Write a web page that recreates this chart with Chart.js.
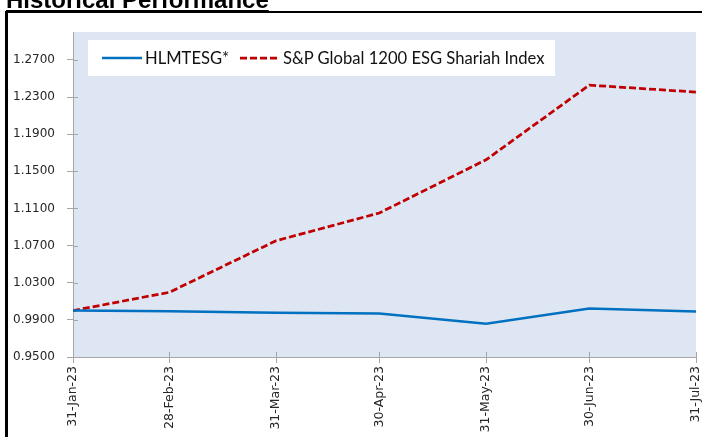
<!DOCTYPE html>
<html>
<head>
<meta charset="utf-8">
<script src="https://cdn.jsdelivr.net/npm/chart.js@4.4.1/dist/chart.umd.min.js"></script>
<style>
  html, body { margin: 0; padding: 0; background: #fff; }
  #wrap { position: relative; width: 702px; height: 437px; overflow: hidden; }
  #chart { position: absolute; left: 0; top: 0; }
  #title {
    position: absolute; left: 6px; top: -14px; line-height: 24px;
    font: bold 24px "Liberation Sans", Arial, sans-serif; color: #000;
    text-decoration: underline; white-space: nowrap;
  }
  #frame {
    position: absolute; left: 5px; top: 11px; width: 740px; height: 460px;
    border-left: 3px solid #000; border-top: 2px solid #000;
  }
  #legend {
    position: absolute; left: 88px; top: 40px; width: 467px; height: 36px;
    background: #fff; font: 16.6px Lato, "Open Sans", sans-serif; color: #111;
  }
  #legend .item { position: absolute; top: 0; height: 36px; display: flex; align-items: center; white-space: nowrap; }
  #legend svg { margin-right: 3px; }
</style>
</head>
<body>
<div id="wrap">
  <canvas id="chart" width="702" height="437"></canvas>
  <div id="frame"></div>
  <div id="title">Historical Performance</div>
  <div id="legend"></div>
</div>
<script>
// ---- data ----
const dateLabels = ['31-Jan-23', '28-Feb-23', '31-Mar-23', '30-Apr-23', '31-May-23', '30-Jun-23', '31-Jul-23'];
const dayOffsets = [0, 28, 59, 89, 120, 150, 181]; // days since 31-Jan-23
const seriesNames = ['HLMTESG*', 'S&P Global 1200 ESG Shariah Index'];
const hlmtesg = [1.0000, 0.9993, 0.9977, 0.9968, 0.9857, 1.0022, 0.9989];
const spIndex = [1.0000, 1.0197, 1.0752, 1.1051, 1.1624, 1.2428, 1.2353];
const yTicks = [0.95, 0.99, 1.03, 1.07, 1.11, 1.15, 1.19, 1.23, 1.27];

const BLUE = '#0070C0';
const RED = '#C00000';
const AXIS = '#A6A6A6';

const plotBg = {
  id: 'plotBg',
  beforeDraw(chart) {
    const { ctx, chartArea: a } = chart;
    ctx.save();
    ctx.fillStyle = '#DFE6F3';
    ctx.fillRect(a.left, a.top, a.right - a.left, a.bottom - a.top);
    ctx.restore();
  },
  // tick marks cross the axis lines a little into the plot
  afterDatasetsDraw(chart) {
    const { ctx, chartArea: a, scales } = chart;
    ctx.save();
    ctx.strokeStyle = AXIS;
    ctx.lineWidth = 1;
    ctx.beginPath();
    scales.y.ticks.forEach(t => {
      const y = Math.round(scales.y.getPixelForValue(t.value)) + 0.5;
      ctx.moveTo(a.left, y); ctx.lineTo(a.left + 5, y);
    });
    scales.x.ticks.forEach(t => {
      const x = Math.round(scales.x.getPixelForValue(t.value)) + 0.5;
      ctx.moveTo(x, a.bottom); ctx.lineTo(x, a.bottom - 5);
    });
    ctx.stroke();
    ctx.restore();
  }
};

const toPts = vals => vals.map((v, i) => ({ x: dayOffsets[i], y: v }));

const chart = new Chart(document.getElementById('chart'), {
  type: 'line',
  data: {
    datasets: [
      {
        label: seriesNames[0],
        data: toPts(hlmtesg),
        borderColor: BLUE,
        borderWidth: 2.5,
        pointRadius: 0,
        tension: 0,
      },
      {
        label: seriesNames[1],
        data: toPts(spIndex),
        borderColor: RED,
        borderWidth: 2.75,
        borderDash: [7, 3],
        pointRadius: 0,
        tension: 0,
      },
    ],
  },
  options: {
    responsive: false,
    animation: false,
    layout: { padding: { top: 32, right: 6, left: 0, bottom: 0 } },
    plugins: { legend: { display: false }, tooltip: { enabled: false } },
    scales: {
      x: {
        type: 'linear',
        min: dayOffsets[0],
        max: dayOffsets[dayOffsets.length - 1],
        afterBuildTicks: s => { s.ticks = dayOffsets.map(v => ({ value: v })); },
        afterFit: s => { s.height = 80; s.paddingRight = 0; s.paddingLeft = 0; },
        border: { color: AXIS, width: 1 },
        grid: { drawOnChartArea: false, color: AXIS, tickLength: 6 },
        ticks: {
          color: '#262626',
          font: { family: 'DejaVu Sans', size: 12.5 },
          minRotation: 90,
          maxRotation: 90,
          padding: 3,
          autoSkip: false,
          callback: v => dateLabels[dayOffsets.indexOf(v)],
        },
      },
      y: {
        min: 0.95,
        max: 1.30,
        afterBuildTicks: s => { s.ticks = yTicks.map(v => ({ value: v })); },
        afterFit: s => { s.width = 73; },
        border: { color: AXIS, width: 1 },
        grid: { drawOnChartArea: false, color: AXIS, tickLength: 6 },
        ticks: {
          color: '#262626',
          font: { family: 'DejaVu Sans', size: 12 },
          padding: 12,
          callback: v => v.toFixed(4),
        },
      },
    },
  },
  plugins: [plotBg],
});

// legend box inside the plot, built from the dataset styles
const legend = document.getElementById('legend');
const legendX = [14, 152];
chart.data.datasets.forEach((ds, i) => {
  const item = document.createElement('div');
  item.className = 'item';
  item.style.left = legendX[i] + 'px';
  const dash = ds.borderDash ? `stroke-dasharray="${ds.borderDash.join(',')}"` : '';
  item.innerHTML = `<svg width="40" height="6"><line x1="0" y1="3" x2="40" y2="3" stroke="${ds.borderColor}" stroke-width="${ds.borderWidth}" ${dash}/></svg>`;
  const span = document.createElement('span');
  span.textContent = ds.label;
  item.appendChild(span);
  legend.appendChild(item);
});
</script>
</body>
</html>
